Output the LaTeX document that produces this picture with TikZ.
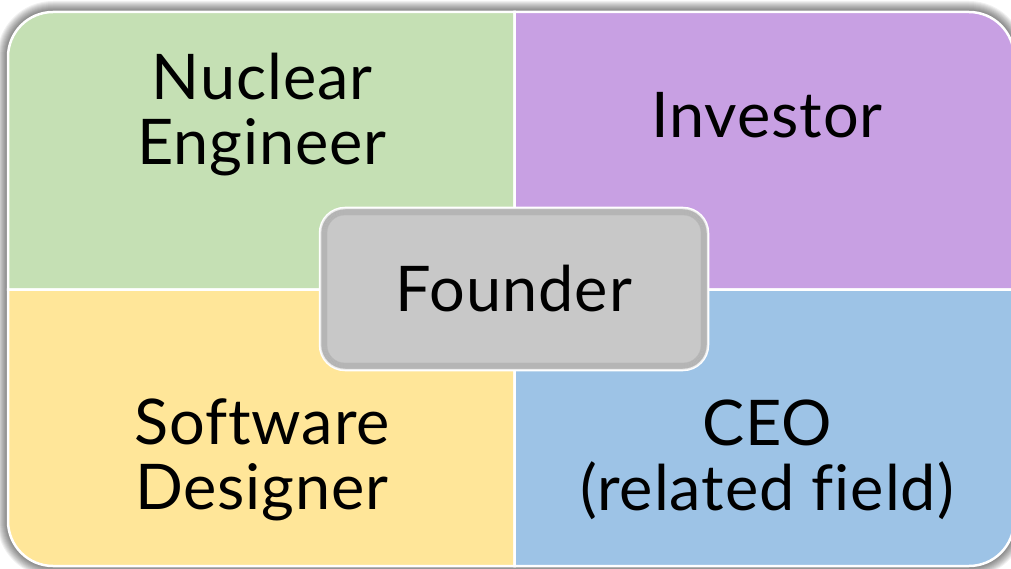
\documentclass[tikz,border=0pt]{standalone}
\usepackage{fontspec}
\setmainfont[LetterSpace=1.5, Ligatures=NoCommon]{Lato}
\definecolor{nucgreen}{HTML}{C5E0B4}
\definecolor{invpurple}{HTML}{C8A0E3}
\definecolor{softyellow}{HTML}{FFE699}
\definecolor{ceoblue}{HTML}{9DC3E6}
\definecolor{foundgray}{HTML}{C8C8C8}
\tikzset{
  quad/.style={
    draw=white, line width=2.5pt
  },
  glowlayer/.style={
    fill=black, fill opacity=0.055
  },
  quadtext/.style={
    font=\fontsize{63}{65}\selectfont, align=center, text=black
  },
  founderbox/.style={
    rectangle, rounded corners=25pt, minimum width=388pt, minimum height=162pt,
    draw=white, line width=2.5pt, fill=foundgray
  }
}

\begin{document}
\begin{tikzpicture}[x=1pt, y=-1pt]

\clip (0,0) rectangle (1011,569);
\fill[white] (0,0) rectangle (1011,569);

% Ombre commune
\foreach \d in {1,...,11} {
  \fill[glowlayer, rounded corners=45pt+\d pt] (8-\d,12-\d) rectangle (1014+\d,566+\d);
}

% Quadrants
\draw[quad, fill=nucgreen] (514.5,289.5) -- (8,289.5) -- (8,150) [rounded corners=45pt] -- (8,12) -- (200,12) [sharp corners] -- (514.5,12) -- cycle;
\draw[quad, fill=invpurple] (514.5,289.5) -- (514.5,12) -- (800,12) [rounded corners=45pt] -- (1014,12) -- (1014,150) [sharp corners] -- (1014,289.5) -- cycle;
\draw[quad, fill=softyellow] (514.5,289.5) -- (8,289.5) -- (8,400) [rounded corners=45pt] -- (8,566) -- (200,566) [sharp corners] -- (514.5,566) -- cycle;
\draw[quad, fill=ceoblue] (514.5,289.5) -- (514.5,566) -- (800,566) [rounded corners=45pt] -- (1014,566) -- (1014,400) [sharp corners] -- (1014,289.5) -- cycle;

% Texte des quadrants
\node[quadtext] (nuclear) at (262,115) {Nuclear\\Engineer};
\node[quadtext] (investor) at (767,115) {Investor};
\node[quadtext] (software) at (262,460) {Software\\Designer};
\node[quadtext] (ceo) at (767,460) {CEO\\(related field)};

% Founder au centre
\node[founderbox] (founder) at (514,289) {};
\foreach \d in {1,...,7} {
  \draw[black, opacity=0.07, line width=1.2pt, rounded corners=25pt-\d pt]
    ([shift={(\d+1,\d+1)}]founder.north west) rectangle ([shift={(-\d-1,-\d-1)}]founder.south east);
}
\node[quadtext] (foundertext) at (founder.center) {Founder};

\end{tikzpicture}
\end{document}
